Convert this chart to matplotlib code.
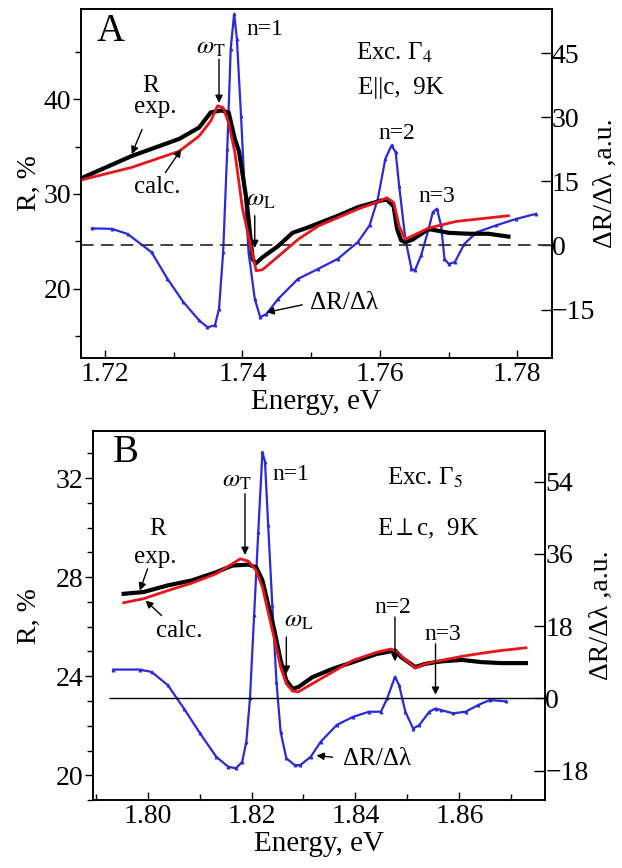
import numpy as np
import matplotlib
matplotlib.use("Agg")
import matplotlib.pyplot as plt
from matplotlib.ticker import MultipleLocator, FormatStrFormatter

plt.rcParams['font.family'] = ['Liberation Serif', 'DejaVu Serif']
plt.rcParams['mathtext.fontset'] = 'stix'

# ---- panel A data (Exc. Gamma4, E||c) ----
eA_exp = [1.7167, 1.7239, 1.7308, 1.7337, 1.7354, 1.7369, 1.7380, 1.7389, 1.7395, 1.7406,
          1.7415, 1.7420, 1.7429, 1.7452, 1.7473, 1.7493, 1.7539, 1.7568, 1.7602, 1.7610,
          1.7620, 1.7625, 1.7631, 1.7637, 1.7648, 1.7671, 1.7700, 1.7729, 1.7758, 1.7787]
rA_exp = [31.7, 34.0, 35.8, 37.0, 38.6, 38.8, 38.6, 35.8, 34.5, 29.4,
          23.1, 22.7, 23.3, 24.5, 25.9, 26.4, 27.7, 28.6, 29.3, 29.4,
          28.7, 26.3, 25.1, 24.9, 25.2, 26.3, 25.9, 25.8, 25.8, 25.5]

eA_calc = [1.7167, 1.7239, 1.7308, 1.7337, 1.7354, 1.7364, 1.7372, 1.7380, 1.7389, 1.7400,
           1.7420, 1.7429, 1.7452, 1.7481, 1.7510, 1.7568, 1.7602, 1.7610, 1.7620, 1.7628,
           1.7637, 1.7648, 1.7671, 1.7711, 1.7787]
rA_calc = [31.5, 32.8, 34.5, 36.1, 37.7, 39.3, 39.1, 37.5, 34.4, 28.5,
           21.9, 22.0, 23.4, 25.2, 26.6, 28.4, 29.3, 29.6, 29.1, 26.6,
           25.2, 25.6, 26.4, 27.1, 27.7]

eA_der = [1.7181, 1.7210, 1.7233, 1.7268, 1.7291, 1.7314, 1.7337, 1.7349, 1.7360, 1.7366,
          1.7372, 1.7378, 1.7383, 1.7388, 1.7392, 1.7398, 1.7403, 1.7409, 1.7418, 1.7426,
          1.7435, 1.7452, 1.7481, 1.7510, 1.7539, 1.7568, 1.7585, 1.7597, 1.7608, 1.7617,
          1.7623, 1.7628, 1.7637, 1.7646, 1.7651, 1.7660, 1.7671, 1.7677, 1.7683, 1.7689,
          1.7694, 1.7700, 1.7709, 1.7723, 1.7741, 1.7769, 1.7798, 1.7827]
dA_der = [4.0, 3.9, 2.7, -1.6, -7.8, -13.2, -17.5, -19.1, -18.7, -14.8,
          -1.6, 22.6, 46.0, 54.2, 48.3, 30.4, 14.0, -1.6, -12.5, -16.8,
          -16.0, -12.5, -7.8, -5.5, -3.1, 0.8, 4.7, 10.9, 20.3, 23.4,
          21.8, 14.0, 1.6, -5.5, -5.8, -2.3, 3.9, 7.8, 8.6, 4.7,
          -3.1, -4.3, -3.9, 0.4, 3.1, 4.7, 6.2, 7.4]

# ---- panel B data (Exc. Gamma5, E perp c) ----
eB_exp = [1.7954, 1.7992, 1.8039, 1.8085, 1.8132, 1.8163, 1.8194, 1.8209, 1.8221, 1.8232,
          1.8244, 1.8256, 1.8267, 1.8279, 1.8290, 1.8317, 1.8356, 1.8395, 1.8441, 1.8476,
          1.8488, 1.8515, 1.8534, 1.8565, 1.8604, 1.8643, 1.8681, 1.8728]
rB_exp = [27.33, 27.40, 27.67, 27.87, 28.20, 28.47, 28.51, 28.40, 27.87, 26.90,
          25.85, 24.64, 23.83, 23.50, 23.56, 23.96, 24.30, 24.57, 24.90, 25.04,
          24.77, 24.37, 24.50, 24.60, 24.66, 24.57, 24.53, 24.53]

eB_calc = [1.7954, 1.7992, 1.8039, 1.8085, 1.8132, 1.8163, 1.8178, 1.8194, 1.8209, 1.8221,
           1.8232, 1.8244, 1.8256, 1.8267, 1.8279, 1.8290, 1.8317, 1.8356, 1.8395, 1.8441,
           1.8468, 1.8480, 1.8515, 1.8534, 1.8565, 1.8604, 1.8643, 1.8681, 1.8728]
rB_calc = [26.97, 27.13, 27.46, 27.76, 28.14, 28.54, 28.74, 28.65, 28.27, 27.60,
           26.59, 25.51, 24.37, 23.70, 23.40, 23.37, 23.70, 24.17, 24.64, 24.97,
           25.10, 24.97, 24.33, 24.50, 24.64, 24.80, 24.93, 25.04, 25.15]

eB_der = [1.7934, 1.7985, 1.8008, 1.8039, 1.8070, 1.8101, 1.8132, 1.8155, 1.8170, 1.8182,
          1.8190, 1.8197, 1.8205, 1.8213, 1.8221, 1.8226, 1.8232, 1.8240, 1.8248, 1.8256,
          1.8267, 1.8283, 1.8294, 1.8314, 1.8333, 1.8364, 1.8395, 1.8426, 1.8449, 1.8461,
          1.8476, 1.8484, 1.8496, 1.8511, 1.8523, 1.8542, 1.8554, 1.8565, 1.8588, 1.8612,
          1.8635, 1.8658, 1.8689]
dB_der = [7.2, 7.2, 6.6, 3.3, -2.5, -8.7, -14.5, -17.0, -17.4, -15.8,
          -10.8, 0.0, 20.7, 41.5, 61.4, 58.9, 43.2, 23.2, 4.1, -8.3,
          -14.9, -16.6, -16.6, -14.5, -10.8, -6.6, -4.6, -3.3, -3.3, 0.0,
          5.4, 3.3, -3.3, -7.5, -6.6, -3.3, -2.5, -2.9, -3.7, -3.3,
          -1.7, -0.4, -0.7]

BLUE = '#2a2ad8'
RED = '#e8161b'
TICK_FS = 20
LAB_FS = 20
ANN_FS = 18

fig = plt.figure(figsize=(6.22, 8.68), dpi=100)


def make_panel(rect, xlim, ylim, y2lim, yticks, ymin, y2ticks, e_exp, r_exp, e_calc, r_calc,
               e_der, d_der, dashed, zero_start, left_lab_x, right_lab_x):
    ax = fig.add_axes(rect)
    ax2 = ax.twinx()
    ax.set_zorder(ax2.get_zorder() + 1)
    ax.patch.set_visible(False)

    ax2.plot(e_der, d_der, color=BLUE, lw=1.6, marker='^', ms=2.2, mew=0.6)
    if dashed:
        ax2.axhline(0, color='#333333', lw=1.3, ls=(0, (7, 4)))
    else:
        ax2.hlines(0, zero_start, xlim[1], color='black', lw=1.0)

    ax.plot(e_exp, r_exp, color='black', lw=3.0)
    ax.plot(e_calc, r_calc, color=RED, lw=2.0)

    ax.set_xlim(*xlim)
    ax2.set_xlim(*xlim)
    ax.set_ylim(*ylim)
    ax2.set_ylim(*y2lim)
    ax.set_yticks(yticks)
    ax.yaxis.set_minor_locator(MultipleLocator(ymin))
    ax2.set_yticks(y2ticks)
    ax.xaxis.set_major_locator(MultipleLocator(0.02))
    ax.xaxis.set_minor_locator(MultipleLocator(0.01))
    ax.xaxis.set_major_formatter(FormatStrFormatter('%.2f'))
    ax.tick_params(axis='y', which='both', direction='out', labelsize=TICK_FS, length=6, width=1, pad=1)
    ax.tick_params(axis='y', which='minor', length=4)
    ax.tick_params(axis='x', which='both', direction='in', labelsize=TICK_FS, length=6, width=1, pad=3)
    ax.tick_params(axis='x', which='minor', length=4)
    ax2.tick_params(axis='y', direction='in', labelsize=TICK_FS, length=8, width=1, pad=0)
    for a in (ax, ax2):
        for s in a.spines.values():
            s.set_linewidth(1.2)
    ax.set_xlabel('Energy, eV', fontsize=LAB_FS + 1, labelpad=1)
    ax.set_ylabel('R, %', fontsize=LAB_FS)
    ax.yaxis.set_label_coords(left_lab_x, 0.5)
    ax.yaxis.label.set_va('center')
    ax2.set_ylabel('ΔR/Δλ ,a.u.', fontsize=LAB_FS)
    ax2.yaxis.set_label_coords(right_lab_x, 0.5)
    ax2.yaxis.label.set_va('center')
    return ax, ax2


def arrow(ax, tail, head):
    ax.annotate('', xy=head, xytext=tail,
                arrowprops=dict(arrowstyle='-|>', color='black', lw=1.0,
                                mutation_scale=11, shrinkA=0, shrinkB=0))


def label(ax, x, y, s, fs=ANN_FS):
    ax.text(x, y, s, transform=ax.transAxes, fontsize=fs, ha='center', va='center')


# panel A
axA, axA2 = make_panel([0.130, 0.5876, 0.757, 0.402], (1.7165, 1.785), (12.7, 49.5),
                       (-26.3, 55.3), [20, 30, 40], 5, [-15, 0, 15, 30, 45],
                       eA_exp, rA_exp, eA_calc, rA_calc, eA_der, dA_der, True, None,
                       -0.11, 1.113)
label(axA, 0.064, 0.935, 'A', 28)
label(axA, 0.276, 0.887, r'$\omega_\mathrm{T}$')
label(axA, 0.39, 0.94, 'n=1', 17)
label(axA, 0.666, 0.873, 'Exc. Γ$_4$')
label(axA, 0.679, 0.773, 'E||c,  9K')
label(axA, 0.149, 0.78, 'R')
label(axA, 0.157, 0.72, 'exp.')
label(axA, 0.162, 0.49, 'calc.')
label(axA, 0.382, 0.453, r'$\omega_\mathrm{L}$')
label(axA, 0.67, 0.644, 'n=2', 17)
label(axA, 0.756, 0.463, 'n=3', 17)
label(axA, 0.56, 0.157, 'ΔR/Δλ')
arrow(axA, (1.7366, 44.2), (1.7366, 39.6))
arrow(axA, (1.7254, 36.8), (1.7239, 34.2))
arrow(axA, (1.7288, 32.25), (1.7311, 34.7))
arrow(axA, (1.7418, 27.7), (1.7418, 24.3))
arrow(axA, (1.7487, 18.3), (1.7435, 17.5))

# panel B
axB, axB2 = make_panel([0.1495, 0.0783, 0.727, 0.425], (1.7895, 1.8765), (19.0, 33.9),
                       (-25.3, 66.6), [20, 24, 28, 32], 1, [-18, 0, 18, 36, 54],
                       eB_exp, rB_exp, eB_calc, rB_calc, eB_der, dB_der, False, 1.7926,
                       -0.14, 1.125)
label(axB, 0.073, 0.941, 'B', 28)
label(axB, 0.319, 0.865, r'$\omega_\mathrm{T}$')
label(axB, 0.438, 0.883, 'n=1', 17)
label(axB, 0.735, 0.874, 'Exc. Γ$_5$')
label(axB, 0.74, 0.734, r'E${\perp}$c,  9K')
label(axB, 0.142, 0.734, 'R')
label(axB, 0.137, 0.66, 'exp.')
label(axB, 0.19, 0.458, 'calc.')
label(axB, 0.456, 0.486, r'$\omega_\mathrm{L}$')
label(axB, 0.664, 0.522, 'n=2', 17)
label(axB, 0.774, 0.449, 'n=3', 17)
label(axB, 0.628, 0.111, 'ΔR/Δλ')
arrow(axB, (1.81874, 31.37), (1.81874, 28.9))
arrow(axB, (1.8000, 28.34), (1.7985, 27.46))
arrow(axB, (1.8027, 26.45), (1.7996, 27.06))
arrow(axB, (1.8267, 25.58), (1.8267, 24.1))
arrow(axB, (1.8476, 26.39), (1.8476, 24.6))
arrow(axB, (1.8554, 25.31), (1.8554, 23.25))
arrow(axB, (1.8356, 20.73), (1.8325, 20.8))

fig.savefig('out.png', dpi=100)
